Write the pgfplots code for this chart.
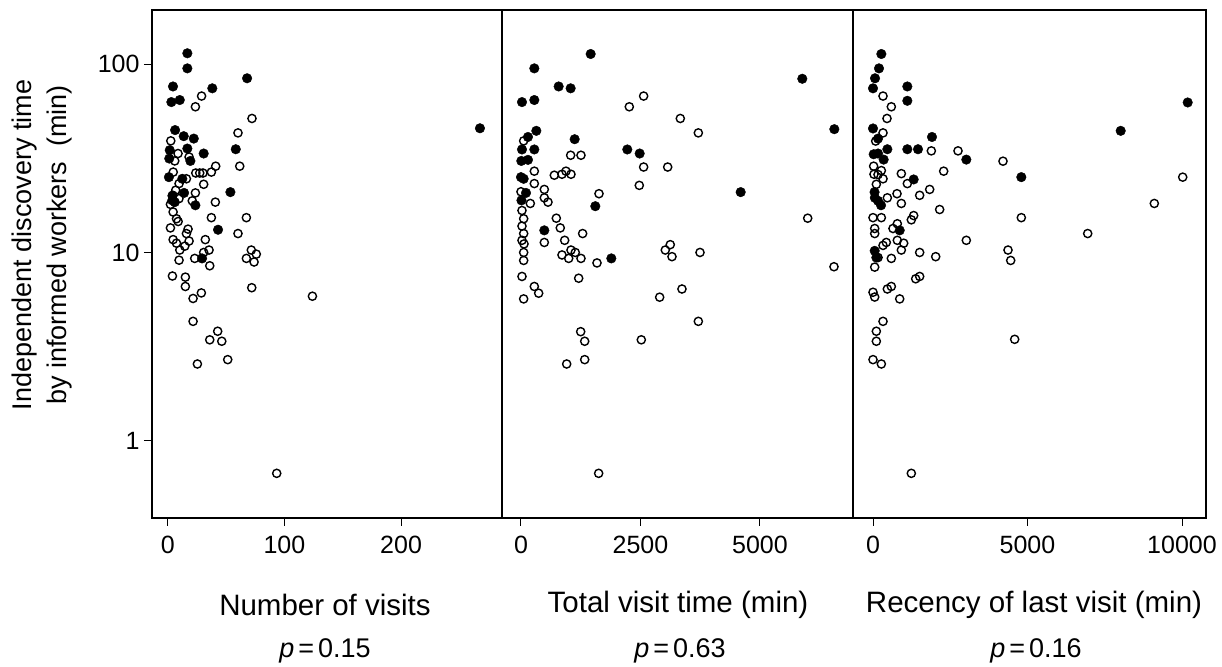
\documentclass[border=0pt]{standalone}
\usepackage{pgfplots}
\pgfplotsset{compat=1.18}
\usepackage{fontspec}
\setmainfont{Liberation Sans}
\pgfplotsset{
  /pgfplots/mypanel/.style={
    scale only axis, anchor=south west,
    height=508pt,
    axis line style={black, line width=1.5pt},
    tick align=outside, major tick length=8pt,
    tick style={black, line width=1pt},
    minor tick style={draw=none},
    xtick pos=bottom, ytick pos=left,
    scaled x ticks=false,
    tick label style={font=\fontsize{25}{30}\selectfont},
    /pgf/number format/assume math mode=true,
    xticklabel style={yshift=-2pt},
    clip=false,
  },
  /pgfplots/myopen/.style={only marks, mark=o, mark size=4.1pt, mark options={line width=1.4pt, draw=black, fill=white}},
  /pgfplots/myfill/.style={only marks, mark=*, mark size=4.8pt, mark options={draw=black, fill=black}},
}
\begin{document}
\fontsize{25}{30}\selectfont
\begin{tikzpicture}[x=1pt,y=1pt]
\useasboundingbox (0,0) rectangle (1222,666);
% ---------- Panel 1 ----------
\begin{axis}[ymode=log, ymin=0.39, ymax=193.5, mypanel, at={(152pt,148pt)}, width=350pt, xmin=-13.5, xmax=286.5,
  xtick={0,100,200}, xticklabels={0,100,200},
  ytick={1,10,100}, yticklabels={1,10,100}, yticklabel style={xshift=4pt}]
\addplot[myopen] coordinates {
(29,67.6)(23.7,59.3)(72.2,51.4)(2.6,39.1)(60.2,43.1)(6,30.6)(61.7,28.7)(41.1,28.7)
(37.4,26.7)(24,26.4)(27.4,26.4)(30.2,26.4)(4.7,26.7)(16,24.6)(9.7,23.2)(30.8,23)
(6.8,21.4)(23.7,20.7)(4.4,20.1)(9.6,19.3)(21,18.8)(40.8,18.5)(2.3,18)(4.6,16.4)
(7.5,15.1)(8.9,14.6)(37.4,15.3)(67.4,15.3)(2.3,13.5)(17.4,13.3)(16,12.6)(60.2,12.6)
(4.6,11.7)(7.5,11.2)(18.3,11.5)(32.2,11.7)(14.6,10.8)(10.3,10.3)(35.4,10.3)(30.8,10)
(71.6,10.3)(75.9,9.8)(67.4,9.3)(74,8.9)(9.7,9.1)(23.1,9.3)(36,8.5)(4,7.5)(15.1,7.4)
(15.1,6.6)(72,6.5)(28.8,6.1)(21.7,5.7)(21.7,4.31)(42.8,3.82)(36,3.44)(46.3,3.38)
(51.4,2.70)(25.4,2.56)(93.4,0.673)(124,5.86)(8.8,33.5)(18.3,32.1)
};
\addplot[myfill] coordinates {
(16.8,114)(16.8,94.8)(68,84)(4.5,76)(38.2,74.3)(3.1,62.8)(10.3,64.4)(6.3,44.6)
(13.7,41.4)(22.3,40.2)(58.3,35.3)(1.7,34.9)(30.8,33.5)(1.3,31.5)(1,25.1)(12.5,24.6)
(53.7,20.9)(14,20.7)(3.9,18.9)(23.7,17.8)(43.1,13.2)(29.4,9.3)(267.6,45.6)
(16.8,35.6)(19.4,30.6)(4,20)(6,18.5)
};
\end{axis}
% ---------- Panel 2 ----------
\begin{axis}[ymode=log, ymin=0.39, ymax=193.5, mypanel, at={(502pt,148pt)}, width=351pt, xmin=-397, xmax=6946,
  xtick={0,2500,5000}, xticklabels={0,2500,5000}, ytick=\empty]
\addplot[myopen] coordinates {
(2566,67.6)(2266,59.3)(3333,51.4)(56,39.1)(1039,32.8)(1255,32.8)(2566,28.4)(3069,28.4)
(279,27)(697,25.7)(858,26)(941,27)(1046,26)(279,23.2)(2475,22.7)(488,21.6)(1632,20.5)
(0,21)(488,19.5)(565,18.5)(195,18.2)(21,16.7)(56,15.1)(739,15.2)(21,13.8)(822,13.5)
(1290,12.6)(56,12.6)(21,11.6)(488,11.3)(914,11.6)(63,11.1)(3123,11)(3019,10.3)
(3159,9.5)(1046,10.3)(1136,10)(858,9.7)(998,9.3)(1255,9.3)(56,10)(56,9.07)(1590,8.8)
(21,7.46)(1207,7.3)(279,6.6)(370,6.08)(56,5.67)(2901,5.79)(3368,6.4)(1249,3.8)
(1333,3.38)(2517,3.44)(1333,2.70)(956,2.56)(1625,0.673)(3710,43.1)(5998,15.2)
(3745,10)(6548,8.4)(3710,4.31)
};
\addplot[myfill] coordinates {
(1458,113)(279,94.8)(788,76)(1039,74.3)(21,62.8)(279,64.4)(321,44.2)(146,41)
(1123,39.9)(21,35.2)(279,35.2)(2224,35.2)(2483,33.5)(7,30.6)(146,31)(0,25.1)
(56,24.6)(105,20.7)(10,18.9)(1555,17.6)(488,13.1)(1890,9.3)(5885,83.5)(6555,45.1)
(4596,20.9)
};
\end{axis}
% ---------- Panel 3 ----------
\begin{axis}[ymode=log, ymin=0.39, ymax=193.5, mypanel, at={(853pt,148pt)}, width=353pt, xmin=-647, xmax=10777,
  xtick={0,5000,10000}, xticklabels={0,5000,10000}, ytick=\empty]
\addplot[myopen] coordinates {
(324,67.6)(593,59.3)(453,51.4)(324,43.1)(87,39)(1888,34.6)(2751,34.6)(4207,30.5)
(21,28.7)(32,26)(162,25.9)(270,27.2)(324,24.6)(917,26.2)(2287,27)(1111,23.2)(108,23)
(1834,21.6)(1510,20.1)(777,20.5)(464,19.5)(917,18.2)(2157,16.9)(0,15.3)(270,15.3)
(1316,15.7)(1240,14.9)(4800,15.3)(787,14.2)(647,13.4)(55,13.4)(55,12.6)(3020,11.6)
(430,11.3)(787,11.6)(993,11.2)(324,10.9)(917,10.3)(1510,10)(2029,9.5)(4369,10.3)
(4456,9.07)(162,9.4)(55,8.36)(593,9.3)(1381,7.25)(1510,7.46)(0,6.15)(55,5.8)
(464,6.4)(593,6.6)(864,5.67)(324,4.31)(108,3.82)(108,3.38)(0,2.70)(270,2.56)
(4585,3.46)(1240,0.673)(10023,25.1)(9104,18.2)(6948,12.6)
};
\addplot[myfill] coordinates {
(270,113)(194,94.8)(65,84)(0,74.3)(1111,76)(1111,63.8)(0,45.5)(162,40.2)(1909,41)
(464,35.3)(1111,35.3)(1456,35.3)(3020,31.1)(4800,25.1)(22,33.2)(162,33.5)(345,31.1)
(1316,24.4)(50,20.9)(60,19.5)(162,18.8)(260,17.8)(864,13.1)(55,10.2)(108,9.4)
(10184,62.5)(8016,44.2)
};
\end{axis}
% ---------- labels ----------
\node[rotate=90, align=center, font=\fontsize{27}{35}\selectfont] at (42,421) {Independent discovery time\\by informed workers\ \ (min)};
\node[font=\fontsize{29.5}{34}\selectfont] at (325,61) {Number of visits};
\node[font=\fontsize{29.5}{34}\selectfont] at (678,61) {Total visit time (min)};
\node[font=\fontsize{29.5}{34}\selectfont] at (1034,61) {Recency of last visit (min)};
\node[font=\fontsize{27}{32}\selectfont] at (325,15) {\textit{p}\hspace{0.15em}=\hspace{0.15em}0.15};
\node[font=\fontsize{27}{32}\selectfont] at (680,15) {\textit{p}\hspace{0.15em}=\hspace{0.15em}0.63};
\node[font=\fontsize{27}{32}\selectfont] at (1036,15) {\textit{p}\hspace{0.15em}=\hspace{0.15em}0.16};
\end{tikzpicture}
\end{document}
